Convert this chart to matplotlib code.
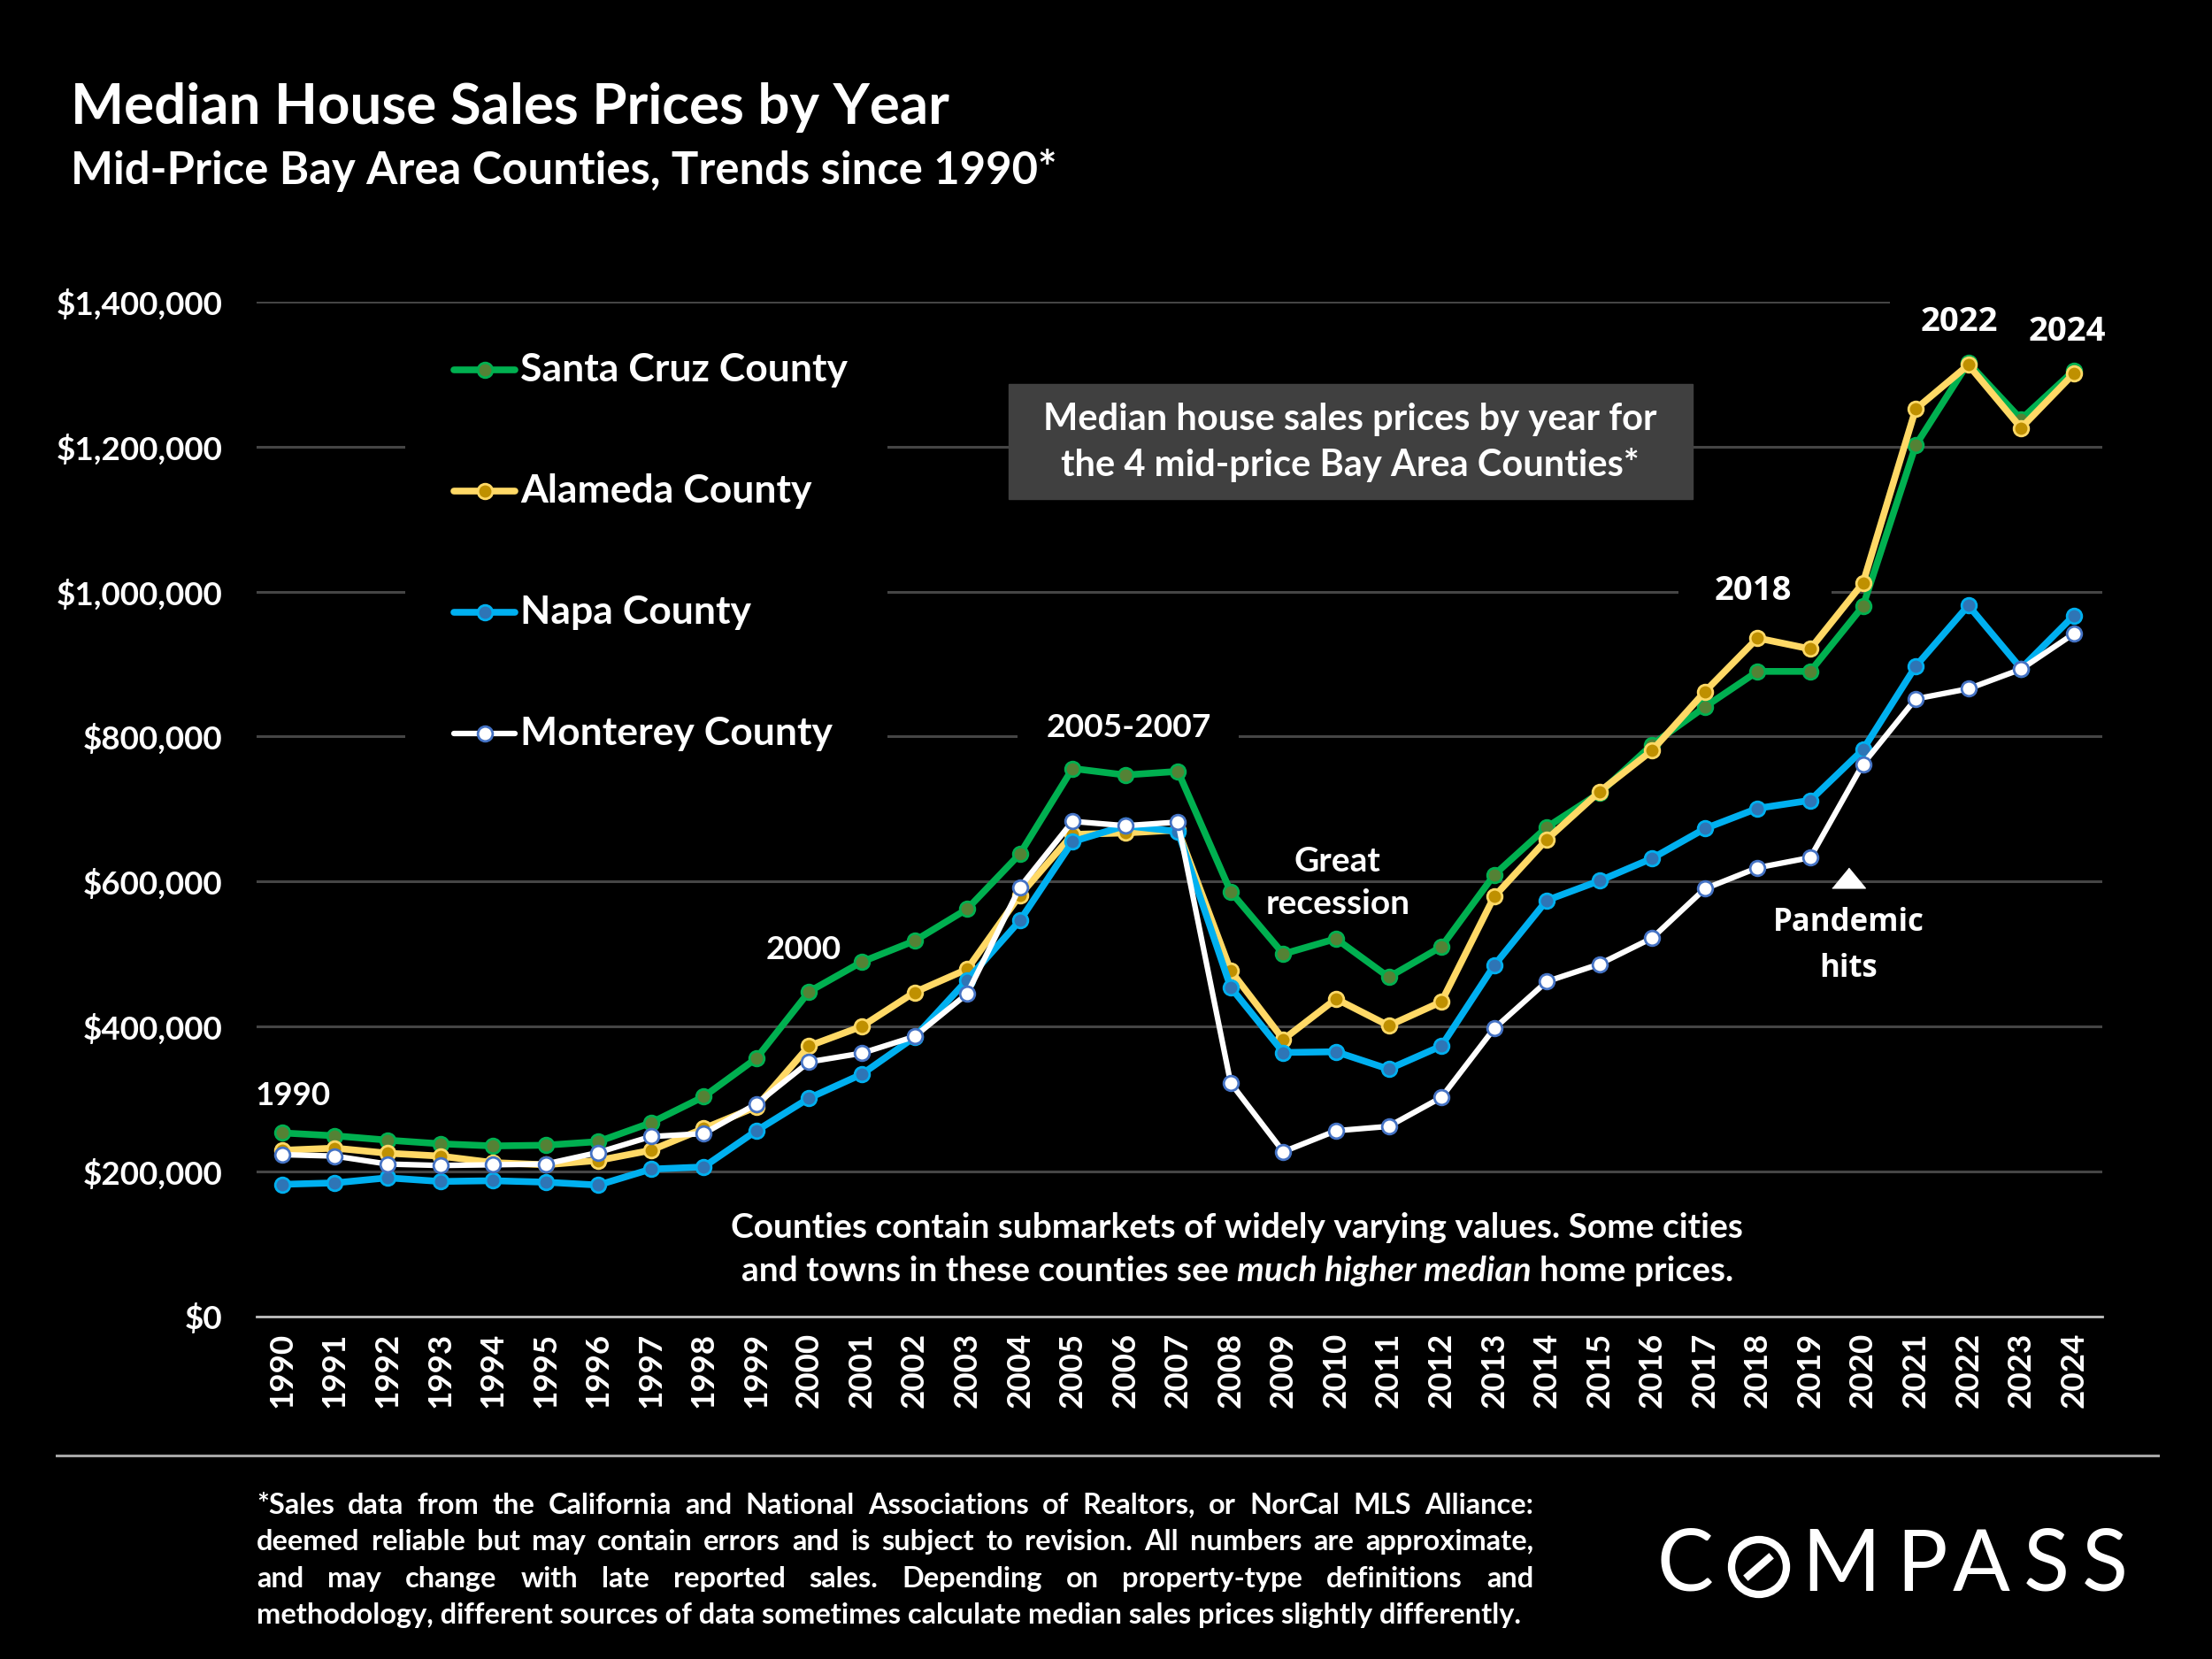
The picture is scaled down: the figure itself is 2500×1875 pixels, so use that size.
import matplotlib
matplotlib.use('Agg')
import matplotlib.pyplot as plt
from matplotlib.lines import Line2D
from matplotlib.patches import Rectangle, Ellipse
from matplotlib.ticker import FuncFormatter

### DATA (median price, $ thousands)
years = list(range(1990, 2025))

santa_cruz = [253, 249, 243, 238, 235, 236, 241, 267, 303, 356,
              448, 489, 518, 562, 638, 756, 747, 752, 586, 500,
              521, 468, 510, 609, 675, 722, 789, 841, 890, 890,
              980, 1202, 1316, 1238, 1305]
alameda = [229, 232, 225, 221, 212, 209, 215, 229, 259, 289,
           373, 400, 447, 479, 581, 665, 667, 671, 477, 382,
           438, 401, 434, 579, 658, 724, 781, 862, 936, 921,
           1012, 1252, 1313, 1226, 1301]
napa = [182, 184, 191, 186, 187, 185, 181, 203, 206, 256,
        301, 334, 385, 464, 546, 655, 677, 669, 454, 364,
        365, 341, 373, 484, 574, 601, 632, 673, 701, 712,
        782, 897, 981, 894, 967]
monterey = [223, 221, 210, 208, 209, 210, 226, 248, 252, 293,
            351, 363, 386, 445, 592, 683, 677, 682, 322, 227,
            256, 262, 302, 397, 462, 486, 522, 590, 619, 633,
            762, 852, 866, 893, 942]

series_names = ['Santa Cruz County', 'Alameda County', 'Napa County', 'Monterey County']
series_vals = [santa_cruz, alameda, napa, monterey]
yticks = [0, 200000, 400000, 600000, 800000, 1000000, 1200000, 1400000]

### STYLE
line_col = ['#00B050', '#FFD966', '#00B0F0', '#FFFFFF']
face_col = ['#548235', '#BF9000', '#2E75B6', '#FFFFFF']
edge_col = ['#00B050', '#FFD966', '#00B0F0', '#4472C4']
line_w = [5.5, 5.5, 5.5, 4.5]

CAL = 'Lato'
WIDE = 'Open Sans'

W, H = 1568.0, 1176.0  # reference layout units
AX_L, AX_R, AX_T, AX_B = 182.0, 1490.0, 214.0, 933.0


def fx(x):
    return x / W


def fy(y):
    return 1 - y / H


fig = plt.figure(figsize=(25, 18.75), dpi=100, facecolor='black')
ax = fig.add_axes([fx(AX_L), fy(AX_B), fx(AX_R) - fx(AX_L), fy(AX_T) - fy(AX_B)])
ax.set_facecolor('black')

for vals, name, lc, fc, ec, lw in zip(series_vals, series_names, line_col, face_col, edge_col, line_w):
    ax.plot(years, [v * 1000 for v in vals], color=lc, lw=lw, marker='o', ms=12,
            mfc=fc, mec=ec, mew=2, label=name, zorder=3)

ax.set_xlim(1990 - 18 / 37.353, 2024 + 20 / 37.353)
ax.set_ylim(0, 1400000)
ax.set_yticks(yticks)
ax.yaxis.set_major_formatter(FuncFormatter(lambda v, p: '${:,.0f}'.format(v)))
ax.set_xticks(years)
ax.set_xticklabels([str(y) for y in years], rotation=90)
ax.grid(axis='y', color='#454545', lw=2.2, zorder=0)
ax.set_axisbelow(True)
for s in ['top', 'right', 'left']:
    ax.spines[s].set_visible(False)
ax.spines['bottom'].set_color('#BFBFBF')
ax.spines['bottom'].set_linewidth(2)
ax.tick_params(axis='both', length=0, colors='white')
ax.tick_params(axis='y', pad=28)
ax.tick_params(axis='x', pad=13)
for lab in ax.get_yticklabels() + ax.get_xticklabels():
    lab.set_fontfamily(CAL)
    lab.set_fontweight('bold')
    lab.set_fontsize(26.5)


### masks that break the gridlines behind text boxes (layout units)
def mask(x0, y0, x1, y1):
    ax.add_patch(Rectangle(((x0 - AX_L) / (AX_R - AX_L), (AX_B - y1) / (AX_B - AX_T)),
                           (x1 - x0) / (AX_R - AX_L), (y1 - y0) / (AX_B - AX_T),
                           transform=ax.transAxes, color='black', zorder=1, lw=0))


mask(287, 225, 629, 560)     # legend
mask(721, 500, 878, 535)     # 2005-2007
mask(1190, 400, 1298, 440)   # 2018
mask(1340, 200, 1495, 228)   # 2022 / 2024

### Titles
fig.text(fx(50), fy(76), 'Median House Sales Prices by Year', color='white', fontsize=45.8,
         fontweight='bold', family=CAL, ha='left', va='center')
fig.text(fx(50), fy(121), 'Mid-Price Bay Area Counties, Trends since 1990*', color='white',
         fontsize=36.5, fontweight='bold', family=CAL, ha='left', va='center')

### Legend (manual)
for i, (name, lc, fc, ec, lw) in enumerate(zip(series_names, line_col, face_col, edge_col, line_w)):
    yy = fy(262 + 86 * i)
    fig.add_artist(Line2D([fx(322), fx(365)], [yy, yy], color=lc, lw=lw,
                          transform=fig.transFigure, zorder=3, solid_capstyle='round'))
    fig.add_artist(Line2D([fx(343.5)], [yy], marker='o', ms=12, mfc=fc, mec=ec, mew=2,
                          transform=fig.transFigure, zorder=4))
    fig.text(fx(369), yy, name, color='white', fontsize=32, fontweight='bold', family=CAL,
             ha='left', va='center', zorder=4)

### Gray box
fig.add_artist(Rectangle((fx(715), fy(354)), fx(1200) - fx(715), fy(272) - fy(354),
                         transform=fig.transFigure, color='#404040', zorder=2))
fig.text(fx(957), fy(313.5), 'Median house sales prices by year for\nthe 4 mid-price Bay Area Counties*',
         color='white', fontsize=30, fontweight='bold', family=CAL, ha='center', va='center',
         linespacing=1.42, zorder=4)


### Annotations
def note(x, y, s, fam=CAL, size=24, ls=1.2):
    ax.text(x, y, s, color='white', fontsize=size, fontweight='bold', family=fam,
            ha='center', va='center', zorder=5, linespacing=ls)


note(1990.2, 303700, '1990', size=26.5)
note(1999.9, 506000, '2000', size=26.5)
note(2006.06, 812000, '2005-2007', size=26.8)
note(2010.03, 598700, 'Great\nrecession', size=28, ls=1.44)
note(2017.92, 1000800, '2018', fam=WIDE, size=27.5)
note(2021.83, 1372600, '2022', fam=WIDE, size=27.5)
note(2023.88, 1359000, '2024', fam=WIDE, size=27.5)
note(2019.72, 511000, 'Pandemic\nhits', fam=WIDE, size=25, ls=1.6)
tri = [(-14, -8.5), (14, -8.5), (0, 8.5)]
ax.plot([2019.72], [605500], marker=tri, ms=27, color='white', mec='white', zorder=5)

### Note text with italics
r = fig.canvas.get_renderer()
W_PX = fig.get_figwidth() * fig.dpi
NS = 28
fig.text(fx(877), fy(870), 'Counties contain submarkets of widely varying values. Some cities',
         color='white', fontsize=NS, fontweight='bold', family=CAL, ha='center', va='center')
parts = [('and towns in these counties see', 'normal'), ('much higher median', 'italic'),
         ('home prices.', 'normal')]
objs = []
for s, st in parts:
    objs.append(fig.text(0, fy(901), s, color='white', fontsize=NS, fontweight='bold', family=CAL,
                         style=st, ha='left', va='center'))
sp = fig.text(0, 0, 'a a', fontsize=NS, fontweight='bold', family=CAL)
sp2 = fig.text(0, 0, 'aa', fontsize=NS, fontweight='bold', family=CAL)
space = (sp.get_window_extent(r).width - sp2.get_window_extent(r).width) / W_PX
sp.remove()
sp2.remove()
wids = [o.get_window_extent(r).width / W_PX for o in objs]
total = sum(wids) + space * (len(wids) - 1)
x = fx(877) - total / 2
for o, w in zip(objs, wids):
    o.set_x(x)
    x += w + space

### Footer
fig.add_artist(Line2D([fx(40), fx(1530)], [fy(1032), fy(1032)], color='#A6A6A6', lw=2.2,
                      transform=fig.transFigure))
foot = ['*Sales data from the California and National Associations of Realtors, or NorCal MLS Alliance:',
        'deemed reliable but may contain errors and is subject to revision. All numbers are approximate,',
        'and may change with late reported sales. Depending on property-type definitions and',
        'methodology, different sources of data sometimes calculate median sales prices slightly differently.']
FS = 23.4
x0, x1 = fx(182), fx(1087)
for i, line in enumerate(foot):
    yy = fy(1067 + 26 * i)
    if i == len(foot) - 1:
        fig.text(x0, yy, line, color='white', fontsize=FS, fontweight='bold', family=CAL,
                 ha='left', va='center')
        continue
    words = line.split(' ')
    ts = [fig.text(0, yy, w, color='white', fontsize=FS, fontweight='bold', family=CAL,
                   ha='left', va='center') for w in words]
    ws = [t.get_window_extent(r).width / W_PX for t in ts]
    gap = (x1 - x0 - sum(ws)) / (len(words) - 1)
    x = x0
    for t, w in zip(ts, ws):
        t.set_x(x)
        x += w + gap


### COMPASS logo (full-res pixel positions)
def px(x):
    return x / 2500.0


def py(y):
    return 1 - y / 1875.0


logo = [('C', 1904), ('M', 2081), ('P', 2172), ('A', 2239), ('S', 2313), ('S', 2379)]
for ch, cx in logo:
    fig.text(px(cx), py(1771), ch, color='white', fontsize=69, family=CAL, ha='center',
             va='center')
fig.add_artist(Ellipse((px(1988), py(1771)), 2 * 31 / 2500, 2 * 31 / 1875, fill=False,
                       ec='white', lw=6, transform=fig.transFigure))
fig.add_artist(Line2D([px(1976), px(1999)], [py(1781), py(1761)], color='white', lw=6,
                      transform=fig.transFigure))

fig.savefig('out.png', dpi=100, facecolor='black')
